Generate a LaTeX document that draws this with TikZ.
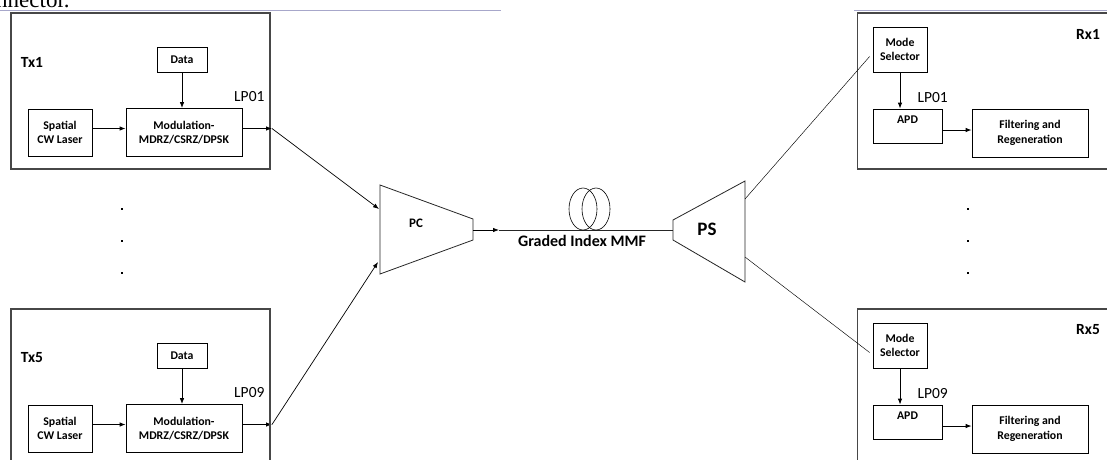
\documentclass[tikz,border=0pt]{standalone}
\usepackage{fontspec}
\setmainfont{Carlito}
\newfontfamily\pagefont{Liberation Serif}
\usetikzlibrary{arrows.meta, positioning}

\begin{document}
\begin{tikzpicture}[
    x=1pt, y=-1pt,
    >={Latex[length=6pt,width=4.5pt]},
    every node/.style={font=\fontsize{11.8}{14.5}\selectfont\bfseries},
    sysbox/.style={draw=black!72, line width=1.1pt, inner sep=0pt,
                   minimum width=259pt, minimum height=156pt},
    blk/.style={draw, line width=0.8pt, align=center, inner sep=0pt},
    sig/.style={->, line width=0.8pt},
    fib/.style={line width=0.8pt, draw=black!85},
    tap/.style={line width=0.45pt},
    mode/.style={font=\fontsize{15.5}{17}\selectfont},
    sysname/.style={font=\fontsize{15.5}{17}\selectfont\bfseries},
]
\useasboundingbox (0,0) rectangle (1107,459);
% left-over of the page above the figure
\node[anchor=base west, inner sep=0pt, font=\pagefont\fontsize{23}{25}\selectfont] (cut) at (-4,7) {nnector.};
\draw[color=blue!25!gray!55, line width=1pt] (0,10.5) -- (501,10.5);
\draw[color=blue!25!gray!55, line width=1pt] (854,10.5) -- (1107,10.5);

% transmitters
\foreach \n/\dy/\lp in {1/0/LP01, 5/296/LP09} {
  \node[sysbox] (tx\n) at (140.5,91+\dy) {};
  \node[sysname] (txname\n) at (32,62+\dy) {Tx\n};
  \node[blk, minimum width=50pt, minimum height=25pt] (data\n) at (182,59.5+\dy) {Data};
  \node[blk, minimum width=64pt, minimum height=47pt] (laser\n) at (60,132.5+\dy) {Spatial\\CW Laser};
  \node[blk, minimum width=116pt, minimum height=48pt] (mod\n) at (184,132.5+\dy) {Modulation-\\MDRZ/CSRZ/DPSK};
  \node[mode, anchor=east] (txlp\n) at (268,97+\dy) {\lp};
  \coordinate (out\n) at (272,128.5+\dy);
  \draw[sig] ([yshift=4pt]laser\n.east) -- ([yshift=4pt]laser\n.east -| mod\n.west);
  \draw[sig] (data\n.south) -- (data\n.south |- mod\n.north);
  \draw[sig] ([yshift=4pt]mod\n.east) -- (out\n);
}
\node[sysbox, minimum height=162pt] at (140.5,390) {};

% receivers
\foreach \n/\dy/\lp in {1/0/LP01, 5/296/LP09} {
  \node[sysbox] (rx\n) at (987,91+\dy) {};
  \node[sysname] (rxname\n) at (1088,34+\dy) {Rx\n};
  \node[blk, minimum width=54pt, minimum height=45pt] (ms\n) at (900,49.5+\dy) {Mode\\Selector};
  \node[blk, minimum width=69pt, minimum height=34pt, text height=8pt, text depth=13pt] (apd\n) at (907.5,126+\dy) {APD};
  \node[blk, minimum width=116pt, minimum height=48pt] (filt\n) at (1030,133+\dy) {Filtering and\\Regeneration};
  \node[mode, anchor=west] (rxlp\n) at (914,98+\dy) {\lp};
  \draw[sig] (ms\n.south) -- (ms\n.south |- apd\n.north);
  \draw[sig] ([yshift=-4pt]apd\n.east) -- ([yshift=-4pt]apd\n.east -| filt\n.west);
}
\node[sysbox, minimum height=162pt] at (987,390) {};

% the dots between the branches
\foreach \y in {208,240,272} {
  \fill (121,\y) rectangle ++(2.2,2.2);
  \fill (967,\y) rectangle ++(2.2,2.2);
}

% power combiner
\draw[fib] (380,185) -- (473,219) -- (473,240) -- (380,274) -- cycle;
\node[font=\fontsize{13}{15}\selectfont\bfseries] (pc) at (416,223) {PC};
\coordinate (pcin1) at (379,209);
\coordinate (pcin5) at (378,262);
\coordinate (pcout) at (473,230);
\draw[->, line width=0.7pt] (out1) -- (pcin1);
\draw[->, line width=0.7pt] (out5) -- (pcin5);

% fibre with its coil
\coordinate (fibmid) at (499,230);
\coordinate (psin) at (673,230);
\draw[sig] (pcout) -- (fibmid);
\draw[fib] (fibmid) -- (psin);
\draw[line width=0.6pt] (583,209) ellipse (14 and 21);
\draw[line width=0.6pt] (596,209) ellipse (14 and 21);
\node[font=\fontsize{16}{18}\selectfont\bfseries] (mmf) at (582,241) {Graded Index MMF};

% power splitter
\draw[fib] (673,220) -- (745,181) -- (745,282) -- (673,240) -- cycle;
\node[font=\fontsize{19}{21}\selectfont\bfseries] (ps) at (707,229) {PS};
\coordinate (psout1) at (745,199);
\coordinate (psout5) at (745,257);
\draw[tap] (psout1) -- ([shift={(-3pt,-7pt)}]ms1.west);
\draw[tap] (psout5) -- ([shift={(-3pt,-7pt)}]ms5.west);
\end{tikzpicture}
\end{document}
